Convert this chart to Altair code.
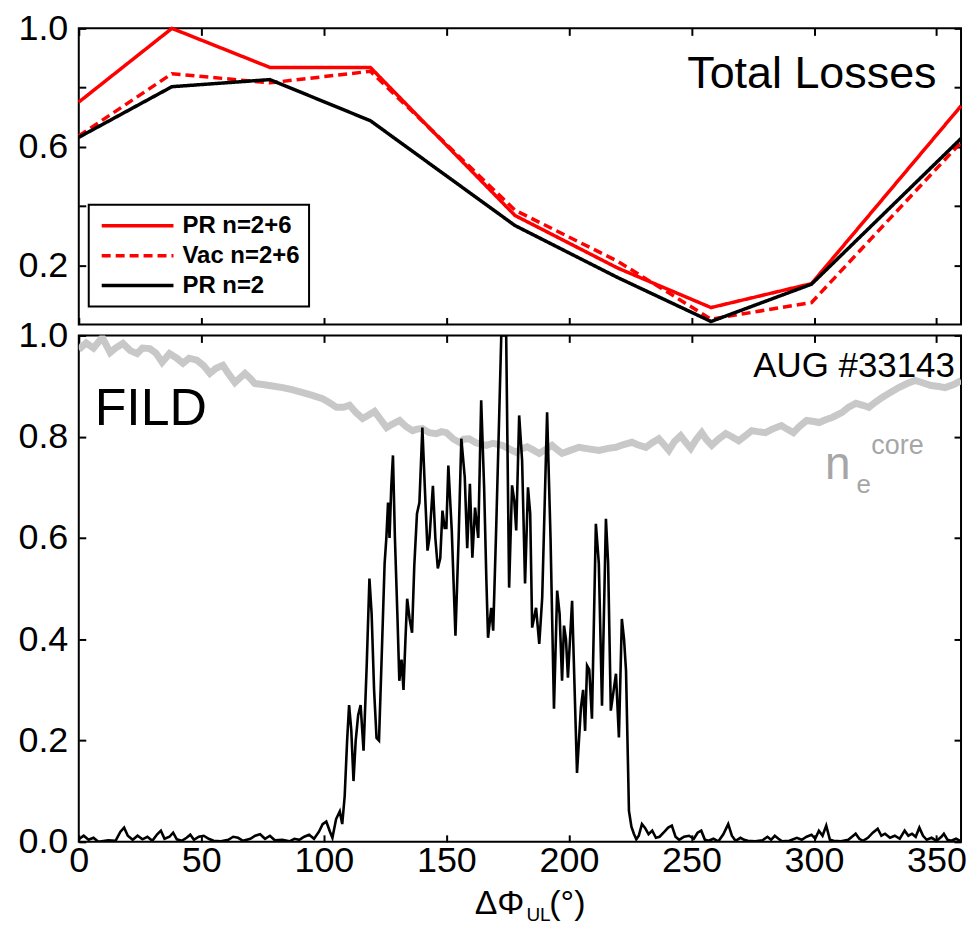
import altair as alt
import pandas as pd

# ---------------- data ----------------
series_names = ["PR n=2+6", "Vac n=2+6", "PR n=2"]
phase_top = [0, 38, 78, 119, 178, 220, 258, 299, 360]
pr_n26 = [0.751, 1.0, 0.868, 0.868, 0.368, 0.19, 0.057, 0.138, 0.738]
vac_n26 = [0.637, 0.847, 0.816, 0.855, 0.386, 0.213, 0.018, 0.074, 0.615]
pr_n2 = [0.632, 0.803, 0.827, 0.688, 0.334, 0.158, 0.01, 0.136, 0.628]

fild_points = [
    (0, 0.005), (2, 0.012), (4, 0.004), (6, 0.008), (8, 0.0), (12, 0.003), (15, 0.002),
    (17, 0.02), (18.5, 0.028), (20, 0.012), (22, 0.004), (24, 0.012), (26, 0.005),
    (28, 0.01), (30, 0.002), (32, 0.015), (33.5, 0.022), (35, 0.006), (37, 0.01),
    (38.5, 0.018), (40, 0.005), (42, 0.002), (44, 0.008), (45.5, 0.014), (47, 0.004),
    (49, 0.01), (51, 0.012), (53, 0.006), (55, 0.002), (58, 0.001), (61, 0.004),
    (63, 0.01), (65, 0.008), (67, 0.002), (70, 0.006), (72, 0.012), (74, 0.015),
    (76, 0.006), (78, 0.012), (80, 0.003), (83, 0.004), (86, 0.001), (88, 0.006),
    (90, 0.004), (92, 0.01), (94, 0.014), (96, 0.006), (98, 0.02), (99.5, 0.035),
    (101, 0.04), (102.5, 0.02), (103.5, 0.008), (105, 0.045), (106.5, 0.06),
    (107.5, 0.035), (108.5, 0.09), (109.5, 0.2), (110.3, 0.27), (111.2, 0.22),
    (112.1, 0.12), (113, 0.2), (114, 0.25), (115, 0.27), (116.2, 0.18), (117.5, 0.35),
    (118.6, 0.52), (119.5, 0.45), (120.5, 0.3), (121.5, 0.205), (122.5, 0.2),
    (123.5, 0.35), (124.8, 0.55), (125.5, 0.6), (126.2, 0.67), (126.8, 0.6),
    (127.5, 0.7), (128.2, 0.763), (129, 0.6), (130, 0.45), (130.8, 0.318),
    (131.7, 0.36), (132.5, 0.3), (133.3, 0.4), (134, 0.48), (135, 0.44), (136, 0.413),
    (136.9, 0.545), (138, 0.648), (139, 0.67), (140.2, 0.818), (141.2, 0.7),
    (142.3, 0.575), (143.1, 0.6), (144.5, 0.703), (145.5, 0.6), (146.5, 0.54),
    (147.5, 0.56), (148.4, 0.654), (149.3, 0.62), (150, 0.62), (150.8, 0.743),
    (152.2, 0.614), (153.7, 0.407), (155, 0.6), (156.1, 0.796), (157.5, 0.72),
    (158.5, 0.58), (159.6, 0.707), (160.6, 0.561), (161.7, 0.66), (163, 0.6),
    (164.2, 0.872), (165.4, 0.7), (166.3, 0.52), (167, 0.403), (168.3, 0.462),
    (169.1, 0.417), (170.3, 0.615), (171.5, 0.832), (172.4, 1.0), (174.4, 1.0),
    (175.6, 0.502), (176.8, 0.704), (177.7, 0.674), (178.5, 0.615), (179.7, 0.842),
    (180.9, 0.753), (182.1, 0.51), (183.3, 0.7), (184.2, 0.648), (185, 0.423),
    (186.6, 0.462), (187.9, 0.391), (189.1, 0.482), (191.1, 0.848), (192.5, 0.6),
    (193.9, 0.263), (195.2, 0.496), (196.2, 0.45), (197.2, 0.318), (198, 0.427),
    (198.8, 0.4), (199.6, 0.324), (201.3, 0.476), (203.3, 0.136), (204.9, 0.265),
    (205.8, 0.3), (206.6, 0.219), (207.4, 0.348), (208.3, 0.34), (209.4, 0.243),
    (211, 0.628), (212.2, 0.55), (213.5, 0.269), (215.1, 0.638), (216, 0.55),
    (217.1, 0.259), (219.2, 0.332), (220.4, 0.206), (221.6, 0.44), (222.5, 0.4),
    (223.3, 0.338), (224.5, 0.061), (225.5, 0.03), (226.5, 0.016), (227.5, 0.005),
    (228.5, 0.012), (229.8, 0.035), (231, 0.028), (232.5, 0.015), (234, 0.022),
    (235.5, 0.008), (237, 0.01), (239, 0.02), (240.5, 0.028), (242, 0.032),
    (243.5, 0.01), (245, 0.004), (247, 0.01), (249, 0.012), (251, 0.006),
    (252.5, 0.018), (254, 0.022), (255.5, 0.004), (257, 0.002), (259, 0.006),
    (261, 0.001), (263, 0.015), (265, 0.035), (266.5, 0.012), (268, 0.002),
    (270, 0.008), (271.5, 0.004), (273, 0.002), (276, 0.001), (279, 0.003),
    (281, 0.01), (282.5, 0.004), (284, 0.012), (285.5, 0.006), (287, 0.001),
    (290, 0.002), (293, 0.008), (295, 0.004), (297, 0.01), (299, 0.014),
    (300.5, 0.006), (302, 0.022), (303.5, 0.012), (305, 0.032), (306.5, 0.004),
    (308, 0.002), (311, 0.001), (314, 0.004), (316, 0.012), (317, 0.016),
    (318.5, 0.006), (320, 0.002), (322, 0.008), (324, 0.018), (326, 0.026),
    (327.5, 0.012), (329, 0.016), (331, 0.008), (333, 0.012), (335, 0.006),
    (337, 0.022), (338.5, 0.012), (340, 0.016), (341.5, 0.01), (343, 0.028),
    (344.5, 0.012), (346, 0.004), (348, 0.008), (350, 0.002), (352, 0.01),
    (353, 0.016), (354.5, 0.004), (356, 0.002), (358, 0.006), (360, 0.001),
]

ne_points = [
    (0, 0.972), (3, 0.985), (6, 0.975), (9.6, 0.996), (12.8, 0.966), (15, 0.975),
    (18, 0.984), (21, 0.97), (23.8, 0.964), (26, 0.975), (29, 0.974), (31.5, 0.965),
    (34, 0.947), (37, 0.964), (40, 0.955), (42.5, 0.945), (45, 0.955), (48.2, 0.951),
    (51, 0.94), (53.5, 0.925), (56, 0.935), (58.8, 0.941), (61, 0.925), (63.7, 0.907),
    (65.5, 0.915), (67.8, 0.925), (70, 0.915), (71.8, 0.905), (75, 0.903), (79, 0.9),
    (83.2, 0.897), (87, 0.893), (91.4, 0.887), (95, 0.882), (99.5, 0.875),
    (102, 0.868), (105.2, 0.858), (108, 0.858), (110.5, 0.862), (113, 0.848),
    (115.8, 0.836), (118, 0.842), (120.7, 0.85), (123, 0.835), (125.6, 0.818),
    (128, 0.825), (130.9, 0.832), (133.5, 0.82), (136.2, 0.812), (138, 0.815),
    (140.2, 0.816), (143, 0.808), (145.9, 0.806), (148, 0.81), (150, 0.808),
    (153, 0.795), (155.3, 0.789), (157, 0.795), (159.3, 0.796), (162, 0.788),
    (166.3, 0.783), (169, 0.787), (172.8, 0.783), (176, 0.775), (178.5, 0.769),
    (180, 0.775), (183, 0.78), (185, 0.775), (187.9, 0.767), (190.5, 0.775),
    (193.1, 0.783), (195, 0.775), (197.2, 0.767), (200, 0.772), (204.1, 0.779),
    (208, 0.776), (212.3, 0.773), (216, 0.777), (219.2, 0.779), (222, 0.784),
    (225.7, 0.789), (228, 0.784), (231.4, 0.779), (234, 0.788), (236.7, 0.796),
    (238.5, 0.786), (240.8, 0.773), (243, 0.79), (245.6, 0.802), (247.5, 0.79),
    (249.7, 0.777), (252, 0.795), (254.2, 0.808), (256, 0.795), (258.3, 0.783),
    (261, 0.795), (264, 0.806), (266.5, 0.8), (269.3, 0.792), (272, 0.802),
    (274.6, 0.812), (277, 0.81), (280.2, 0.808), (283, 0.815), (286.7, 0.822),
    (289, 0.815), (291.6, 0.808), (294, 0.82), (297, 0.832), (300, 0.83),
    (302.1, 0.828), (305, 0.834), (307.4, 0.838), (309.5, 0.843), (311.5, 0.848),
    (314, 0.858), (317.1, 0.866), (320, 0.862), (322.4, 0.858), (325, 0.868),
    (327.7, 0.877), (331, 0.887), (334.6, 0.897), (338, 0.905), (341.3, 0.911),
    (344, 0.907), (347.8, 0.901), (351, 0.899), (353.5, 0.897), (357, 0.903),
    (360, 0.911),
]

x_ticks = [0, 50, 100, 150, 200, 250, 300, 350]
top_y_ticks = [0.2, 0.4, 0.6, 0.8, 1.0]
top_y_labels = [0.2, 0.6, 1.0]
bot_y_ticks = [0.0, 0.2, 0.4, 0.6, 0.8, 1.0]

# ---------------- tables ----------------
top_df = pd.DataFrame({
    "phase": phase_top * 3,
    "value": pr_n26 + vac_n26 + pr_n2,
    "series": [series_names[0]] * 9 + [series_names[1]] * 9 + [series_names[2]] * 9,
    "ord": [0] * 9 + [1] * 9 + [2] * 9,
})
fild_df = pd.DataFrame(fild_points, columns=["phase", "value"])
ne_df = pd.DataFrame(ne_points, columns=["phase", "value"])
mid_df = pd.DataFrame({"phase": [180], "value": [0.5]})

FONT = "Liberation Sans"
W, HT, HB = 885, 297, 508
TICK = 7

xs = alt.Scale(domain=[0, 360], nice=False, zero=False)
yt = alt.Scale(domain=[0, 1], nice=False, zero=False)
yb = alt.Scale(domain=[0, 1], nice=False, zero=False)


def tick_axis(orient, values):
    return alt.Axis(orient=orient, values=values, labels=False, domain=False, grid=False,
                    ticks=True, tickSize=TICK, tickWidth=2, tickColor="black",
                    offset=-TICK, title=None, minExtent=0, maxExtent=0)


def label_axis(orient, values, fmt, pad):
    return alt.Axis(orient=orient, values=values, format=fmt, labelFont=FONT,
                    labelFontSize=36, labelColor="black", labelPadding=pad,
                    ticks=False, tickSize=0, domain=False, grid=False, title=None,
                    labelOverlap=False, labelFlush=False, minExtent=0)


# ---------------- top panel ----------------
leg = alt.Legend(title=None, orient="none", legendX=10, legendY=177,
                 symbolType="M-1,0L8,0", symbolSize=256, symbolStrokeWidth=3.5,
                 labelOffset=61, labelFont=FONT, labelFontSize=24, labelFontWeight="bold",
                 labelColor="black", strokeColor="black", fillColor="white",
                 padding=9, rowPadding=6)

top_lines = alt.Chart(top_df).mark_line(strokeWidth=3.5).encode(
    x=alt.X("phase:Q", scale=xs, axis=None),
    y=alt.Y("value:Q", scale=yt, axis=label_axis("left", top_y_labels, ".1f", 11)),
    color=alt.Color("series:N", scale=alt.Scale(domain=series_names,
                                                 range=["#ff0000", "#ff0000", "#000000"]),
                    legend=leg),
    strokeDash=alt.StrokeDash("series:N", scale=alt.Scale(domain=series_names,
                                                          range=[[1, 0], [9, 5], [1, 0]]),
                              legend=leg),
    order=alt.Order("ord:Q"),
)

top_ticks_lb = alt.Chart(mid_df).mark_point(opacity=0).encode(
    x=alt.X("phase:Q", scale=xs, axis=tick_axis("bottom", x_ticks)),
    y=alt.Y("value:Q", scale=yt, axis=tick_axis("left", top_y_ticks)),
)
top_ticks_rt = alt.Chart(mid_df).mark_point(opacity=0).encode(
    x=alt.X("phase:Q", scale=xs, axis=tick_axis("top", x_ticks)),
    y=alt.Y("value:Q", scale=yt, axis=tick_axis("right", top_y_ticks)),
)

total_df = pd.DataFrame({"x": [350], "y": [0.8], "t": ["Total Losses"]})
total_text = alt.Chart(total_df).mark_text(align="right", baseline="alphabetic", font=FONT,
                                           fontSize=45, color="black").encode(
    x=alt.X("x:Q", scale=xs, axis=None), y=alt.Y("y:Q", scale=yt, axis=None), text="t:N")

top = alt.layer(top_lines, top_ticks_lb, top_ticks_rt, total_text).resolve_axis(
    x="independent", y="independent").properties(width=W, height=HT)

# ---------------- bottom panel ----------------
ne_line = alt.Chart(ne_df).mark_line(color="#c8c8c8", strokeWidth=7, clip=True).encode(
    x=alt.X("phase:Q", scale=xs, axis=None),
    y=alt.Y("value:Q", scale=yb, axis=None),
)
fild_line = alt.Chart(fild_df).mark_line(color="black", strokeWidth=2.6, clip=True).encode(
    x=alt.X("phase:Q", scale=xs, axis=label_axis("bottom", x_ticks, "d", 2)),
    y=alt.Y("value:Q", scale=yb, axis=label_axis("left", bot_y_ticks, ".1f", 11)),
)
bot_ticks_lb = alt.Chart(mid_df).mark_point(opacity=0).encode(
    x=alt.X("phase:Q", scale=xs, axis=tick_axis("bottom", x_ticks)),
    y=alt.Y("value:Q", scale=yb, axis=tick_axis("left", bot_y_ticks)),
)
bot_ticks_rt = alt.Chart(mid_df).mark_point(opacity=0).encode(
    x=alt.X("phase:Q", scale=xs, axis=tick_axis("top", x_ticks)),
    y=alt.Y("value:Q", scale=yb, axis=tick_axis("right", bot_y_ticks)),
)


def note(x, y, t, size, color, align="left", baseline="alphabetic"):
    d = pd.DataFrame({"x": [x], "y": [y], "t": [t]})
    return alt.Chart(d).mark_text(align=align, baseline=baseline, font=FONT,
                                  fontSize=size, color=color).encode(
        x=alt.X("x:Q", scale=xs, axis=None), y=alt.Y("y:Q", scale=yb, axis=None), text="t:N")


aug = note(357.5, 0.939, "AUG #33143", 35, "black", align="right", baseline="middle")
fild_lbl = note(6.5, 0.854, "FILD", 52, "black", baseline="middle")
ne_n = note(304.5, 0.717, "n", 46, "#a6a6a6")
ne_e = note(317.3, 0.689, "e", 26, "#a6a6a6")
ne_core = note(323.4, 0.766, "core", 27, "#a6a6a6")


def px_text(t, x, y, size, align):
    return alt.Chart(pd.DataFrame({"t": [t]})).mark_text(
        align=align, baseline="alphabetic", font=FONT, fontSize=size, color="black").encode(
        x=alt.value(x), y=alt.value(y), text="t:N")


title_a = px_text("ΔΦ", 447, 580, 34, "right")
title_b = px_text("UL", 449, 587, 19, "left")
title_c = px_text("(°)", 472, 580, 34, "left")

bottom = alt.layer(ne_line, fild_line, bot_ticks_lb, bot_ticks_rt, aug, fild_lbl,
                   ne_n, ne_e, ne_core, title_a, title_b, title_c).resolve_axis(
    x="independent", y="independent").properties(width=W, height=HB)

chart = alt.vconcat(top, bottom, spacing=11, bounds="flush").properties(
    padding={"left": 8, "top": 0, "right": 0, "bottom": 0}
).configure_view(stroke="black", strokeWidth=2).configure_legend(strokeWidth=2)

chart.save("out.html", embed_options={"renderer": "svg", "actions": False})
